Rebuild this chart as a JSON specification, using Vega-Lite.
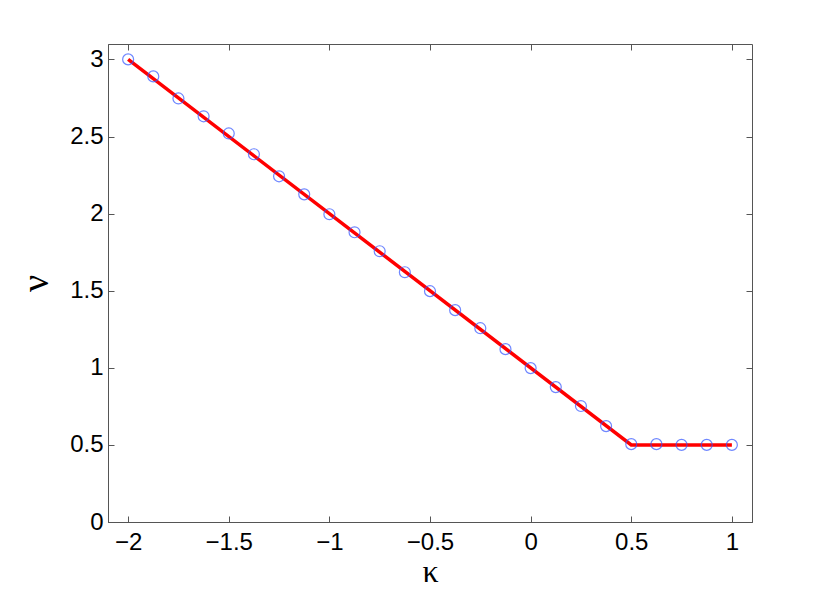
{
  "$schema": "https://vega.github.io/schema/vega-lite/v6.json",
  "width": 644,
  "height": 478,
  "autosize": "none",
  "padding": {"left": 108, "top": 44, "right": 78, "bottom": 71},
  "background": "white",
  "config": {
    "view": {"stroke": "#555555", "strokeWidth": 1},
    "axis": {
      "domainColor": "#555555",
      "tickColor": "#555555",
      "tickSize": -6,
      "grid": false,
      "labelFont": "Liberation Sans",
      "labelFontSize": 24,
      "labelColor": "black",
      "titleFont": "Liberation Serif",
      "titleFontWeight": "normal",
      "titleColor": "black"
    }
  },
  "data": {"values": [
    {"k": -2, "v": 3.0},
    {"k": -1.875, "v": 2.89},
    {"k": -1.75, "v": 2.747},
    {"k": -1.625, "v": 2.631},
    {"k": -1.5, "v": 2.52},
    {"k": -1.375, "v": 2.385},
    {"k": -1.25, "v": 2.242},
    {"k": -1.125, "v": 2.125},
    {"k": -1, "v": 1.996},
    {"k": -0.875, "v": 1.879},
    {"k": -0.75, "v": 1.756},
    {"k": -0.625, "v": 1.62},
    {"k": -0.5, "v": 1.497},
    {"k": -0.375, "v": 1.374},
    {"k": -0.25, "v": 1.257},
    {"k": -0.125, "v": 1.121},
    {"k": 0, "v": 0.998},
    {"k": 0.125, "v": 0.875},
    {"k": 0.25, "v": 0.752},
    {"k": 0.375, "v": 0.622},
    {"k": 0.5, "v": 0.505},
    {"k": 0.625, "v": 0.505},
    {"k": 0.75, "v": 0.5},
    {"k": 0.875, "v": 0.5},
    {"k": 1, "v": 0.5}
  ]},
  "layer": [
    {
      "data": {"values": [
        {"k": -2, "v": 3},
        {"k": 0.5, "v": 0.5},
        {"k": 1, "v": 0.5}
      ]},
      "mark": {"type": "line", "color": "#ff0000", "strokeWidth": 3.5},
      "encoding": {
        "x": {"field": "k", "type": "quantitative", "scale": {"domain": [-2.1, 1.1], "nice": false, "zero": false},
              "axis": {"title": "κ", "titleFontSize": 32, "values": [-2, -1.5, -1, -0.5, 0, 0.5, 1], "labelPadding": 14, "titlePadding": 2, "format": ".1~f"}},
        "y": {"field": "v", "type": "quantitative", "scale": {"domain": [0, 3.1], "nice": false},
              "axis": {"title": "ν", "titleFontSize": 38, "values": [0, 0.5, 1, 1.5, 2, 2.5, 3], "labelPadding": 11, "titlePadding": 14, "format": ".1~f"}}
      }
    },
    {
      "mark": {"type": "point", "shape": "circle", "filled": false, "stroke": "#3355ff", "strokeWidth": 1.2, "size": 120},
      "encoding": {
        "x": {"field": "k", "type": "quantitative", "scale": {"domain": [-2.1, 1.1], "nice": false, "zero": false},
              "axis": {"orient": "top", "labels": false, "title": null, "domain": false, "values": [-2, -1.5, -1, -0.5, 0, 0.5, 1]}},
        "y": {"field": "v", "type": "quantitative", "scale": {"domain": [0, 3.1], "nice": false},
              "axis": {"orient": "right", "labels": false, "title": null, "domain": false, "values": [0, 0.5, 1, 1.5, 2, 2.5, 3]}}
      }
    }
  ],
  "resolve": {"axis": {"x": "independent", "y": "independent"}}
}
